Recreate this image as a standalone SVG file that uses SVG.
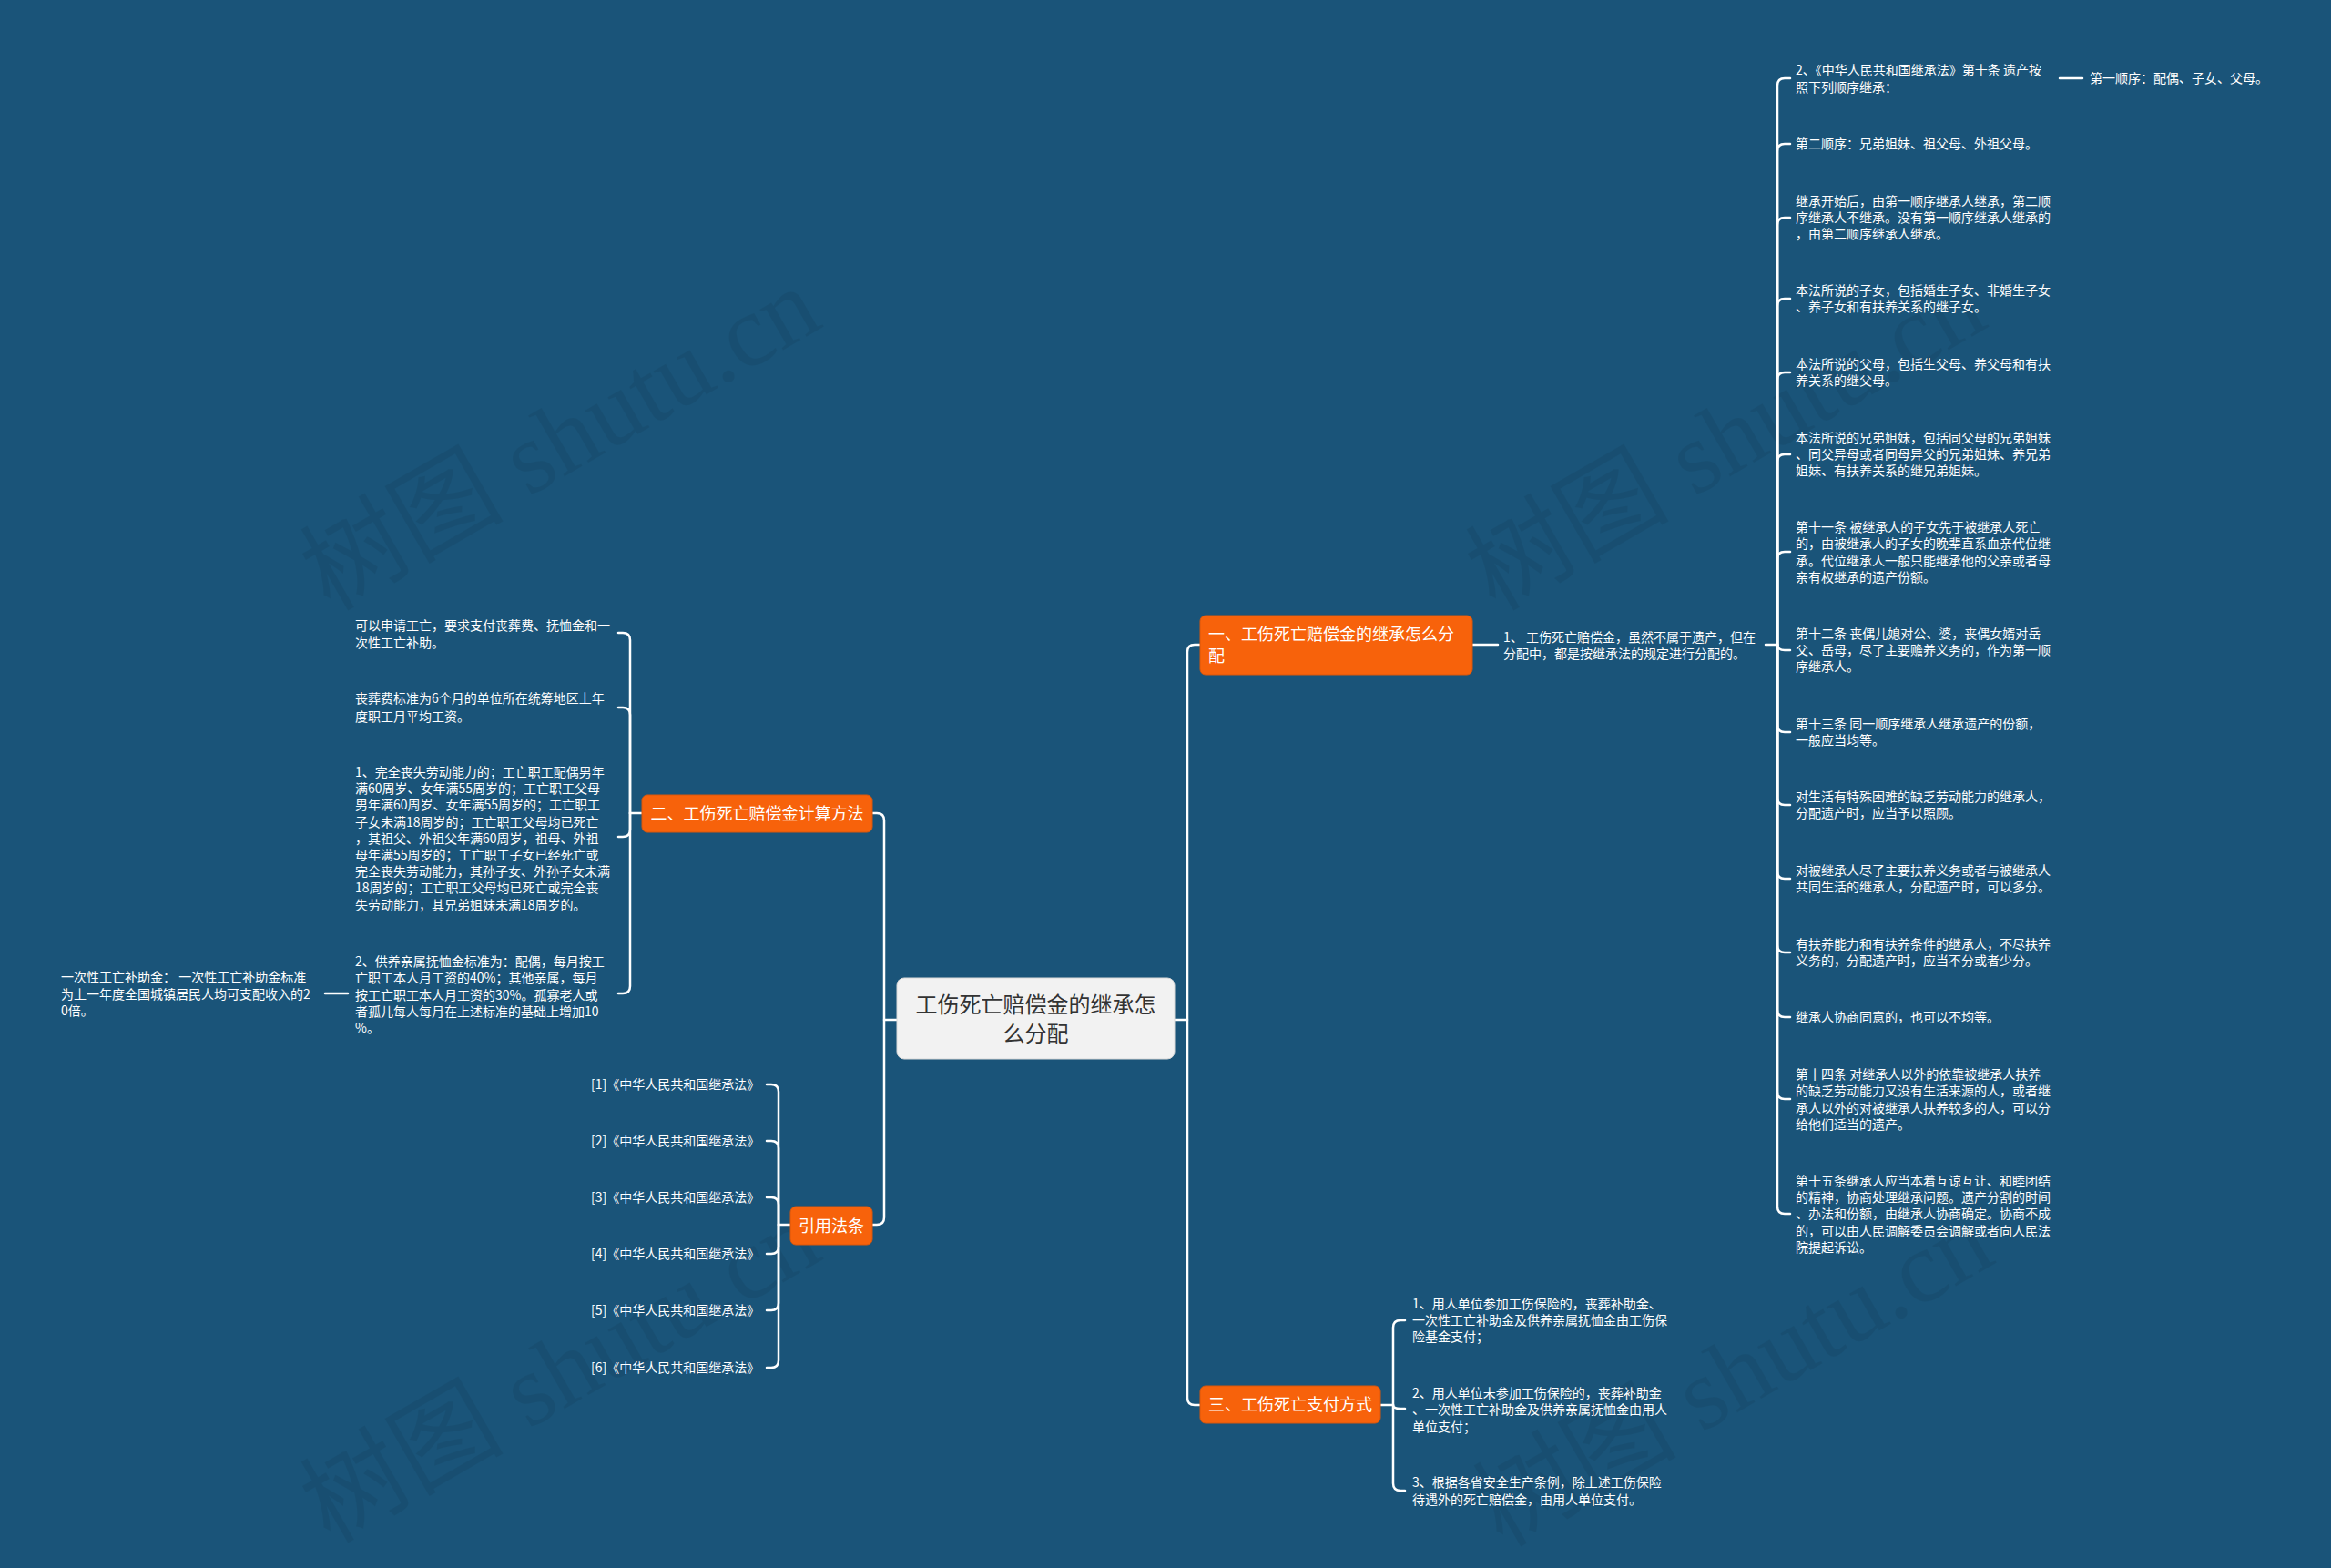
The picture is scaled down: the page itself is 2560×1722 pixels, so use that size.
<svg xmlns="http://www.w3.org/2000/svg" width="2560" height="1722" viewBox="0 0 2560 1722">
<style>
.ln{fill:none;stroke:#ffffff;stroke-width:2.5;stroke-linecap:round;stroke-linejoin:round}
.t{font-family:"Noto Sans CJK SC","Noto Sans",sans-serif;font-size:14px;fill:#ffffff}
.h{font-family:"Noto Sans CJK SC","Noto Sans",sans-serif;font-size:18px;fill:#ffffff}
.ob{fill:#f7620b;stroke:#d9570c;stroke-width:1}
.wm{font-family:"Liberation Serif","Noto Sans CJK SC",serif;font-size:112px;fill:#000000;opacity:0.06}
</style>
<rect width="2560" height="1722" fill="#1a5479"/>
<g id="watermarks">
<text class="wm" x="362" y="672" transform="rotate(-30 362 672)">树图 shutu.cn</text>
<text class="wm" x="1642" y="672" transform="rotate(-30 1642 672)">树图 shutu.cn</text>
<text class="wm" x="362" y="1696" transform="rotate(-30 362 1696)">树图 shutu.cn</text>
<text class="wm" x="1650" y="1700" transform="rotate(-30 1650 1700)">树图 shutu.cn</text>
</g>
<g id="connectors">
<path class="ln" d="M1290 1120 H1304 V716 Q1304 708 1312 708 H1318"/>
<path class="ln" d="M1304 1120 V1535 Q1304 1543 1312 1543 H1318"/>
<path class="ln" d="M985 1120 H971 V901 Q971 893 963 893 H958"/>
<path class="ln" d="M971 1120 V1337 Q971 1345 963 1345 H958"/>
<path class="ln" d="M1617 708 H1645"/>
<path class="ln" d="M1939 708 H1952"/>
<path class="ln" d="M1952 708 V94 Q1952 86 1960 86 H1966"/>
<path class="ln" d="M1952 708 V166 Q1952 158 1960 158 H1966"/>
<path class="ln" d="M1952 708 V247 Q1952 239 1960 239 H1966"/>
<path class="ln" d="M1952 708 V336 Q1952 328 1960 328 H1966"/>
<path class="ln" d="M1952 708 V417 Q1952 409 1960 409 H1966"/>
<path class="ln" d="M1952 708 V507 Q1952 499 1960 499 H1966"/>
<path class="ln" d="M1952 708 V614 Q1952 606 1960 606 H1966"/>
<path class="ln" d="M1952 708 Q1952 714 1960 714 H1966"/>
<path class="ln" d="M1952 708 V796 Q1952 804 1960 804 H1966"/>
<path class="ln" d="M1952 708 V876 Q1952 884 1960 884 H1966"/>
<path class="ln" d="M1952 708 V957 Q1952 965 1960 965 H1966"/>
<path class="ln" d="M1952 708 V1038 Q1952 1046 1960 1046 H1966"/>
<path class="ln" d="M1952 708 V1109 Q1952 1117 1960 1117 H1966"/>
<path class="ln" d="M1952 708 V1199 Q1952 1207 1960 1207 H1966"/>
<path class="ln" d="M1952 708 V1325 Q1952 1333 1960 1333 H1966"/>
<path class="ln" d="M2262 86 H2287"/>
<path class="ln" d="M705 893 H692"/>
<path class="ln" d="M692 893 V703 Q692 695 684 695 H679"/>
<path class="ln" d="M692 893 V785 Q692 777 684 777 H679"/>
<path class="ln" d="M692 893 V911 Q692 919 684 919 H679"/>
<path class="ln" d="M692 893 V1083 Q692 1091 684 1091 H679"/>
<path class="ln" d="M357 1091 H382"/>
<path class="ln" d="M868 1345 H855"/>
<path class="ln" d="M855 1345 V1199 Q855 1191 847 1191 H842"/>
<path class="ln" d="M855 1345 V1261 Q855 1253 847 1253 H842"/>
<path class="ln" d="M855 1345 V1323 Q855 1315 847 1315 H842"/>
<path class="ln" d="M855 1345 V1369 Q855 1377 847 1377 H842"/>
<path class="ln" d="M855 1345 V1431 Q855 1439 847 1439 H842"/>
<path class="ln" d="M855 1345 V1494 Q855 1502 847 1502 H842"/>
<path class="ln" d="M1516 1543 H1530"/>
<path class="ln" d="M1530 1543 V1458 Q1530 1450 1538 1450 H1543"/>
<path class="ln" d="M1530 1543 Q1530 1547 1538 1547 H1543"/>
<path class="ln" d="M1530 1543 V1629 Q1530 1637 1538 1637 H1543"/>
</g>
<g id="root">
<rect x="985" y="1074" width="305" height="89" rx="8" fill="#f2f2f2" stroke="#d8d8d8" stroke-width="1"/>
<text x="1137.5" y="1112" text-anchor="middle" style="font-family:'Noto Sans CJK SC','Noto Sans',sans-serif;font-size:24px;fill:#333333">工伤死亡赔偿金的继承怎</text>
<text x="1137.5" y="1143.5" text-anchor="middle" style="font-family:'Noto Sans CJK SC','Noto Sans',sans-serif;font-size:24px;fill:#333333">么分配</text>
</g>
<g id="b1">
<rect class="ob" x="1318" y="676" width="299" height="65" rx="6"/>
<text class="h"><tspan x="1327" y="702.5">一、工伤死亡赔偿金的继承怎么分</tspan><tspan x="1327" y="726.5">配</tspan></text>
</g>
<g id="b2">
<rect class="ob" x="705" y="873" width="253" height="41" rx="6"/>
<text class="h" x="831.5" y="899.5" text-anchor="middle">二、工伤死亡赔偿金计算方法</text>
</g>
<g id="b3">
<rect class="ob" x="868" y="1325" width="90" height="42" rx="6"/>
<text class="h" x="913" y="1352.5" text-anchor="middle">引用法条</text>
</g>
<g id="b4">
<rect class="ob" x="1318" y="1522" width="198" height="41" rx="6"/>
<text class="h" x="1417" y="1549" text-anchor="middle">三、工伤死亡支付方式</text>
</g>
<g id="n1-1"><text class="t"><tspan x="1651" y="704.5">1、 工伤死亡赔偿金，虽然不属于遗产，但在</tspan><tspan x="1651" y="722.8">分配中，都是按继承法的规定进行分配的。</tspan></text></g>
<g id="r1"><text class="t"><tspan x="1972" y="82">2、《中华人民共和国继承法》第十条 遗产按</tspan><tspan x="1972" y="100.5">照下列顺序继承：</tspan></text></g>
<g id="r1a"><text class="t" x="2295" y="91">第一顺序：配偶、子女、父母。</text></g>
<g id="r2"><text class="t" x="1972" y="163">第二顺序：兄弟姐妹、祖父母、外祖父母。</text></g>
<g id="r3"><text class="t"><tspan x="1972" y="225.7">继承开始后，由第一顺序继承人继承，第二顺</tspan><tspan x="1972" y="244">序继承人不继承。没有第一顺序继承人继承的</tspan><tspan x="1972" y="262.3">，由第二顺序继承人继承。</tspan></text></g>
<g id="r4"><text class="t"><tspan x="1972" y="324">本法所说的子女，包括婚生子女、非婚生子女</tspan><tspan x="1972" y="342">、养子女和有扶养关系的继子女。</tspan></text></g>
<g id="r5"><text class="t"><tspan x="1972" y="405">本法所说的父母，包括生父母、养父母和有扶</tspan><tspan x="1972" y="423">养关系的继父母。</tspan></text></g>
<g id="r6"><text class="t"><tspan x="1972" y="485.7">本法所说的兄弟姐妹，包括同父母的兄弟姐妹</tspan><tspan x="1972" y="504">、同父异母或者同母异父的兄弟姐妹、养兄弟</tspan><tspan x="1972" y="522.3">姐妹、有扶养关系的继兄弟姐妹。</tspan></text></g>
<g id="r7"><text class="t"><tspan x="1972" y="584">第十一条 被继承人的子女先于被继承人死亡</tspan><tspan x="1972" y="602.3">的，由被继承人的子女的晚辈直系血亲代位继</tspan><tspan x="1972" y="620.7">承。代位继承人一般只能继承他的父亲或者母</tspan><tspan x="1972" y="639">亲有权继承的遗产份额。</tspan></text></g>
<g id="r8"><text class="t"><tspan x="1972" y="700.7">第十二条 丧偶儿媳对公、婆，丧偶女婿对岳</tspan><tspan x="1972" y="719">父、岳母，尽了主要赡养义务的，作为第一顺</tspan><tspan x="1972" y="737.3">序继承人。</tspan></text></g>
<g id="r9"><text class="t"><tspan x="1972" y="800">第十三条 同一顺序继承人继承遗产的份额，</tspan><tspan x="1972" y="818.3">一般应当均等。</tspan></text></g>
<g id="r10"><text class="t"><tspan x="1972" y="880">对生活有特殊困难的缺乏劳动能力的继承人，</tspan><tspan x="1972" y="898.3">分配遗产时，应当予以照顾。</tspan></text></g>
<g id="r11"><text class="t"><tspan x="1972" y="961">对被继承人尽了主要扶养义务或者与被继承人</tspan><tspan x="1972" y="979.3">共同生活的继承人，分配遗产时，可以多分。</tspan></text></g>
<g id="r12"><text class="t"><tspan x="1972" y="1041.7">有扶养能力和有扶养条件的继承人，不尽扶养</tspan><tspan x="1972" y="1060">义务的，分配遗产时，应当不分或者少分。</tspan></text></g>
<g id="r13"><text class="t" x="1972" y="1122">继承人协商同意的，也可以不均等。</text></g>
<g id="r14"><text class="t"><tspan x="1972" y="1185">第十四条 对继承人以外的依靠被继承人扶养</tspan><tspan x="1972" y="1203.3">的缺乏劳动能力又没有生活来源的人，或者继</tspan><tspan x="1972" y="1221.7">承人以外的对被继承人扶养较多的人，可以分</tspan><tspan x="1972" y="1240">给他们适当的遗产。</tspan></text></g>
<g id="r15"><text class="t"><tspan x="1972" y="1301.7">第十五条继承人应当本着互谅互让、和睦团结</tspan><tspan x="1972" y="1320">的精神，协商处理继承问题。遗产分割的时间</tspan><tspan x="1972" y="1338.3">、办法和份额，由继承人协商确定。协商不成</tspan><tspan x="1972" y="1356.7">的，可以由人民调解委员会调解或者向人民法</tspan><tspan x="1972" y="1375">院提起诉讼。</tspan></text></g>
<g id="l1"><text class="t"><tspan x="390" y="692">可以申请工亡，要求支付丧葬费、抚恤金和一</tspan><tspan x="390" y="710.7">次性工亡补助。</tspan></text></g>
<g id="l2"><text class="t"><tspan x="390" y="772">丧葬费标准为6个月的单位所在统筹地区上年</tspan><tspan x="390" y="791.7">度职工月平均工资。</tspan></text></g>
<g id="l3"><text class="t"><tspan x="390" y="853">1、完全丧失劳动能力的；工亡职工配偶男年</tspan><tspan x="390" y="871.2">满60周岁、女年满55周岁的；工亡职工父母</tspan><tspan x="390" y="889.4">男年满60周岁、女年满55周岁的；工亡职工</tspan><tspan x="390" y="907.6">子女未满18周岁的；工亡职工父母均已死亡</tspan><tspan x="390" y="925.8">，其祖父、外祖父年满60周岁，祖母、外祖</tspan><tspan x="390" y="944">母年满55周岁的；工亡职工子女已经死亡或</tspan><tspan x="390" y="962.2">完全丧失劳动能力，其孙子女、外孙子女未满</tspan><tspan x="390" y="980.4">18周岁的；工亡职工父母均已死亡或完全丧</tspan><tspan x="390" y="998.6">失劳动能力，其兄弟姐妹未满18周岁的。</tspan></text></g>
<g id="l4"><text class="t"><tspan x="390" y="1061">2、供养亲属抚恤金标准为：配偶，每月按工</tspan><tspan x="390" y="1079.3">亡职工本人月工资的40%；其他亲属，每月</tspan><tspan x="390" y="1097.6">按工亡职工本人月工资的30%。孤寡老人或</tspan><tspan x="390" y="1115.9">者孤儿每人每月在上述标准的基础上增加10</tspan><tspan x="390" y="1134.2">%。</tspan></text></g>
<g id="l4a"><text class="t"><tspan x="67" y="1078">一次性工亡补助金：  一次性工亡补助金标准</tspan><tspan x="67" y="1096.5">为上一年度全国城镇居民人均可支配收入的2</tspan><tspan x="67" y="1115">0倍。</tspan></text></g>
<g id="ref1"><text class="t" x="649" y="1196">[1]《中华人民共和国继承法》</text></g>
<g id="ref2"><text class="t" x="649" y="1258">[2]《中华人民共和国继承法》</text></g>
<g id="ref3"><text class="t" x="649" y="1320">[3]《中华人民共和国继承法》</text></g>
<g id="ref4"><text class="t" x="649" y="1382">[4]《中华人民共和国继承法》</text></g>
<g id="ref5"><text class="t" x="649" y="1444">[5]《中华人民共和国继承法》</text></g>
<g id="ref6"><text class="t" x="649" y="1507">[6]《中华人民共和国继承法》</text></g>
<g id="p1"><text class="t"><tspan x="1551" y="1436.7">1、用人单位参加工伤保险的，丧葬补助金、</tspan><tspan x="1551" y="1455">一次性工亡补助金及供养亲属抚恤金由工伤保</tspan><tspan x="1551" y="1473.3">险基金支付；</tspan></text></g>
<g id="p2"><text class="t"><tspan x="1551" y="1535">2、用人单位未参加工伤保险的，丧葬补助金</tspan><tspan x="1551" y="1553">、一次性工亡补助金及供养亲属抚恤金由用人</tspan><tspan x="1551" y="1571.7">单位支付；</tspan></text></g>
<g id="p3"><text class="t"><tspan x="1551" y="1633">3、根据各省安全生产条例，除上述工伤保险</tspan><tspan x="1551" y="1651.7">待遇外的死亡赔偿金，由用人单位支付。</tspan></text></g>
</svg>
